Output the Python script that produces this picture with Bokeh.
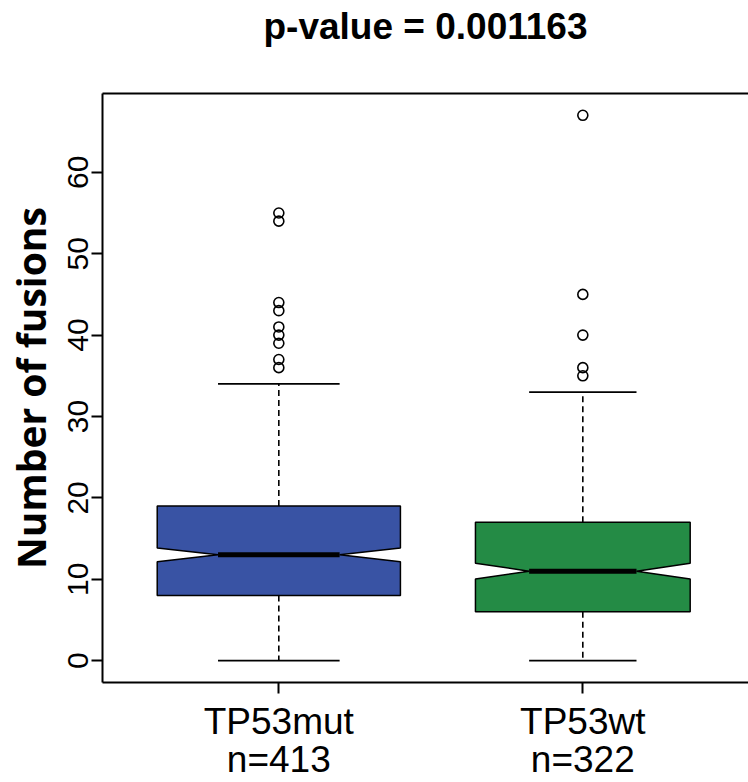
from bokeh.plotting import figure
from bokeh.models import Range1d, FixedTicker, LinearAxis
from bokeh.embed import file_html
from bokeh.resources import INLINE
import math

# ---- data ----
categories = ["TP53mut", "TP53wt"]
n_samples = [413, 322]
q1 = [8, 6]
medians = [13, 11]
q3 = [19, 17]
whisker_low = [0, 0]
whisker_high = [34, 33]
outliers_mut = [36, 37, 39, 40, 41, 43, 44, 54, 55]
outliers_wt = [35, 36, 40, 45, 67]
fill_colors = ["#3953A4", "#248B45"]
y_ticks = [0, 10, 20, 30, 40, 50, 60]
title_text = "p-value = 0.001163"
y_label = "Number of fusions"

positions = [1, 2]
nmax = max(n_samples)

Y0, Y1 = -2.68, 69.68
p = figure(width=748, height=782, output_backend="svg", toolbar_location=None,
           x_range=Range1d(0.42, 2.545), y_range=Range1d(Y0, Y1),
           min_border_left=102, min_border_right=0, min_border_top=93,
           min_border_bottom=100)
p.outline_line_color = None
p.xgrid.visible = False
p.ygrid.visible = False
p.background_fill_color = "white"
p.border_fill_color = "white"

# boxes
xs, ys = [], []
med_x0, med_x1, cap_x0, cap_x1 = [], [], [], []
for i, x in enumerate(positions):
    hw = 0.4 * math.sqrt(n_samples[i] / nmax)
    iqr = q3[i] - q1[i]
    nd = 1.58 * iqr / math.sqrt(n_samples[i])
    lo, hi, m = medians[i] - nd, medians[i] + nd, medians[i]
    xs.append([x - hw, x - hw, x - hw / 2, x - hw, x - hw,
               x + hw, x + hw, x + hw / 2, x + hw, x + hw])
    ys.append([q1[i], lo, m, hi, q3[i], q3[i], hi, m, lo, q1[i]])
    med_x0.append(x - hw / 2)
    med_x1.append(x + hw / 2)
    cap_x0.append(x - hw / 2)
    cap_x1.append(x + hw / 2)

# whiskers (dashed)
p.segment(x0=positions, y0=q3, x1=positions, y1=whisker_high,
          line_color="black", line_width=1.6, line_dash="6 4")
p.segment(x0=positions, y0=q1, x1=positions, y1=whisker_low,
          line_color="black", line_width=1.6, line_dash="6 4")
# caps
p.segment(x0=cap_x0, y0=whisker_high, x1=cap_x1, y1=whisker_high,
          line_color="black", line_width=1.8)
p.segment(x0=cap_x0, y0=whisker_low, x1=cap_x1, y1=whisker_low,
          line_color="black", line_width=1.8)

p.patches(xs=xs, ys=ys, fill_color=fill_colors, line_color="black",
          line_width=1.5)
p.segment(x0=med_x0, y0=medians, x1=med_x1, y1=medians,
          line_color="black", line_width=5)

# outliers
ox = [positions[0]] * len(outliers_mut) + [positions[1]] * len(outliers_wt)
oy = outliers_mut + outliers_wt
p.scatter(x=ox, y=oy, size=10, marker="circle", fill_color=None,
          line_color="black", line_width=1.6)

# axes
ya = p.yaxis[0]
ya.ticker = FixedTicker(ticks=y_ticks)
ya.minor_tick_line_color = None
ya.major_tick_in = 0
ya.major_tick_out = 11
ya.major_tick_line_width = 2
ya.axis_line_width = 2
ya.major_label_orientation = "vertical"
ya.major_label_text_font = "Liberation Sans"
ya.major_label_text_font_size = "30px"
ya.major_label_text_color = "black"
ya.major_label_standoff = 3
ya.axis_label = y_label
ya.axis_label_text_font = "Open Sans"
ya.axis_label_text_font_style = "bold"
ya.axis_label_text_font_size = "39px"
ya.axis_label_text_color = "black"
ya.axis_label_standoff = 9

xa = p.xaxis[0]
xa.ticker = FixedTicker(ticks=positions)
xa.major_label_overrides = {positions[i]: f"{categories[i]}\nn={n_samples[i]}"
                            for i in range(len(positions))}
xa.minor_tick_line_color = None
xa.major_tick_in = 0
xa.major_tick_out = 11
xa.major_tick_line_width = 2
xa.axis_line_width = 2
xa.major_label_text_font = "Liberation Sans"
xa.major_label_text_font_size = "37px"
xa.major_label_text_line_height = 0.93
xa.major_label_text_color = "black"
xa.major_label_standoff = 7

# top frame line carrying the title
top = LinearAxis(ticker=FixedTicker(ticks=[]), axis_line_width=2,
                 major_tick_line_color=None, minor_tick_line_color=None,
                 major_tick_out=0, major_label_standoff=0,
                 major_label_text_font_size="0px")
top.axis_label = title_text
top.axis_label_text_font = "Liberation Sans"
top.axis_label_text_font_style = "bold"
top.axis_label_text_font_size = "37px"
top.axis_label_text_color = "black"
top.axis_label_standoff = 47
p.add_layout(top, "above")

open("out.html", "w").write(file_html(p, INLINE))
